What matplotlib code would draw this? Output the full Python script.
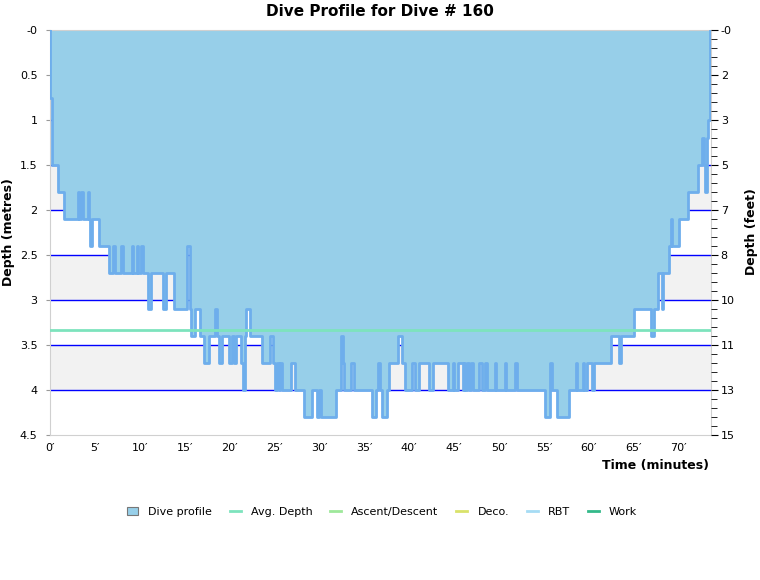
import numpy as np
import matplotlib
matplotlib.use("Agg")
import matplotlib.pyplot as plt
from matplotlib.lines import Line2D
from matplotlib.patches import Patch

# ---------------- data ----------------
dive_number = 160
# time (minutes) where a new depth level starts, depth (metres)
times = [0.00, 0.05, 0.25, 0.85, 1.60, 3.10, 3.25, 3.50, 3.65, 4.20, 4.35, 4.45,
         4.70, 5.50, 6.62, 7.00, 7.25, 7.95, 8.10, 9.10, 9.25, 9.65, 9.80, 10.15,
         10.30, 10.90, 11.20, 12.55, 12.95, 13.80, 15.25, 15.55, 15.70, 16.10, 16.70,
         17.15, 17.70, 18.40, 18.55, 18.85, 19.20, 19.95, 20.25, 20.45, 20.70, 21.30,
         21.45, 21.70, 21.85, 22.30, 23.65, 24.50, 24.80, 25.05, 25.30, 25.45, 25.60,
         25.85, 26.80, 27.30, 28.30, 29.20, 29.70, 29.90, 30.15, 31.80, 32.35, 32.60,
         32.75, 33.50, 33.80, 35.85, 36.25, 36.55, 36.70, 36.95, 37.50, 37.70, 38.75,
         39.15, 39.55, 40.30, 40.65, 41.05, 42.15, 42.60, 44.30, 44.85, 45.00, 45.45,
         45.95, 46.10, 46.25, 46.45, 46.60, 46.85, 47.15, 47.80, 48.05, 48.45, 48.65,
         49.50, 49.65, 50.65, 50.80, 51.75, 51.95, 55.15, 55.70, 55.90, 56.40, 57.75,
         58.55, 58.70, 59.35, 59.50, 59.80, 60.35, 60.60, 62.50, 63.40, 63.55, 65.00,
         66.95, 67.25, 67.75, 68.10, 68.30, 68.90, 69.15, 69.30, 70.05, 71.05, 72.10,
         72.55, 72.80, 72.95, 73.15, 73.30, 73.45]
depths = [0.0, 0.75, 1.5, 1.8, 2.1, 1.8, 2.1, 1.8, 2.1, 1.8, 2.1, 2.4,
          2.1, 2.4, 2.7, 2.4, 2.7, 2.4, 2.7, 2.4, 2.7, 2.4, 2.7, 2.4,
          2.7, 3.1, 2.7, 3.1, 2.7, 3.1, 2.4, 3.1, 3.4, 3.1, 3.4,
          3.7, 3.4, 3.1, 3.4, 3.7, 3.4, 3.7, 3.4, 3.7, 3.4, 3.7,
          4.0, 3.4, 3.1, 3.4, 3.7, 3.4, 3.7, 4.0, 3.7, 4.0, 3.7,
          4.0, 3.7, 4.0, 4.3, 4.0, 4.3, 4.0, 4.3, 4.0, 3.4, 3.7,
          4.0, 3.7, 4.0, 4.3, 4.0, 3.7, 4.0, 4.3, 4.0, 3.7, 3.4,
          3.7, 4.0, 3.7, 4.0, 3.7, 4.0, 3.7, 4.0, 3.7, 4.0, 3.7,
          4.0, 3.7, 4.0, 3.7, 4.0, 3.7, 4.0, 3.7, 4.0, 3.7, 4.0,
          3.7, 4.0, 3.7, 4.0, 3.7, 4.0, 4.3, 3.7, 4.0, 4.3, 4.0,
          3.7, 4.0, 3.7, 4.0, 3.7, 4.0, 3.7, 3.4, 3.7, 3.4, 3.1,
          3.4, 3.1, 2.7, 3.1, 2.7, 2.4, 2.1, 2.4, 2.1, 1.8, 1.5,
          1.2, 1.5, 1.8, 1.2, 1.0, 0.0]
avg_depth = 3.33

y_ticks = [0, 0.5, 1, 1.5, 2, 2.5, 3, 3.5, 4, 4.5]
y_labels = ["-0", "0.5", "1", "1.5", "2", "2.5", "3", "3.5", "4", "4.5"]
feet_labels = ["-0", "2", "3", "5", "7", "8", "10", "11", "13", "15"]
x_ticks = list(range(0, 75, 5))
x_labels = [f"{m}\u2032" for m in x_ticks]

legend_names = ["Dive profile", "Avg. Depth", "Ascent/Descent", "Deco.", "RBT", "Work"]
legend_colors = ["#97cfe9", "#7de3bd", "#9ee89a", "#d9e26a", "#a6dcf4", "#33b98a"]

# ---------------- figure ----------------
plt.rcParams['font.family'] = ['DejaVu Sans']
fig = plt.figure(figsize=(7.6, 5.8), dpi=100)
ax = fig.add_axes([50 / 760, 145 / 580, 661 / 760, 405 / 580])

xmax = 73.6
ymax = 4.5

# alternating background bands + blue grid lines
for lo in np.arange(0.5, ymax, 1.0):
    ax.axhspan(lo, lo + 0.5, color="#f2f2f2", zorder=0, lw=0)
for g in y_ticks[1:-1]:
    ax.axhline(g, color="#0000ff", lw=1, zorder=1)

t = np.array(times)
d = np.array(depths)
ax.fill_between(t, 0, d, step="post", color="#97cfe9", lw=0, zorder=2)
ax.step(t, d, where="post", color="#6eaeec", lw=2, zorder=3)
ax.plot([0, t[-1]], [0, 0], color="#97cfe9", lw=1, zorder=2)

ax.axhline(avg_depth, color=legend_colors[1], lw=2, zorder=4)

ax.set_xlim(0, xmax)
ax.set_ylim(ymax, 0)

ax.set_yticks(y_ticks)
ax.set_yticklabels(y_labels, fontsize=8)
ax.set_xticks(x_ticks)
ax.set_xticklabels(x_labels, fontsize=8)
ax.tick_params(axis="x", length=0, pad=6)
ax.tick_params(axis="y", length=3, color="#999999", pad=6)
for s in ax.spines.values():
    s.set_color("#d0d0d0")

# right axis in feet
ax2 = ax.twinx()
ax2.set_ylim(ymax, 0)
ax2.set_yticks(y_ticks)
ax2.set_yticklabels(feet_labels, fontsize=8)
ax2.set_yticks(np.arange(0, ymax + 0.01, 0.1), minor=True)
ax2.tick_params(axis="y", which="major", length=5, color="black", pad=2)
ax2.tick_params(axis="y", which="minor", length=4, color="black")
for s in ax2.spines.values():
    s.set_visible(False)

fig.text(9 / 760, 1 - 232 / 580, "Depth (metres)", fontsize=9, fontweight="bold",
         rotation=90, ha="center", va="center")
fig.text(752 / 760, 1 - 232 / 580, "Depth (feet)", fontsize=9, fontweight="bold",
         rotation=90, ha="center", va="center")
fig.text(656 / 760, 1 - 466 / 580, "Time (minutes)", fontsize=9, fontweight="bold",
         ha="center", va="center")
fig.suptitle(f"Dive Profile for Dive # {dive_number}", fontsize=11, fontweight="bold",
             y=1 - 12 / 580, va="center")

handles = [Patch(facecolor=legend_colors[0], edgecolor="#777777", lw=0.8)]
handles += [Line2D([0], [0], color=c, lw=2) for c in legend_colors[1:]]
fig.legend(handles, legend_names, loc="center", bbox_to_anchor=(382 / 760, 1 - 512 / 580),
           ncol=6, frameon=False, fontsize=8, handlelength=1.0, handleheight=0.8,
           columnspacing=1.6, handletextpad=0.9)

fig.savefig("out.png", dpi=100)
